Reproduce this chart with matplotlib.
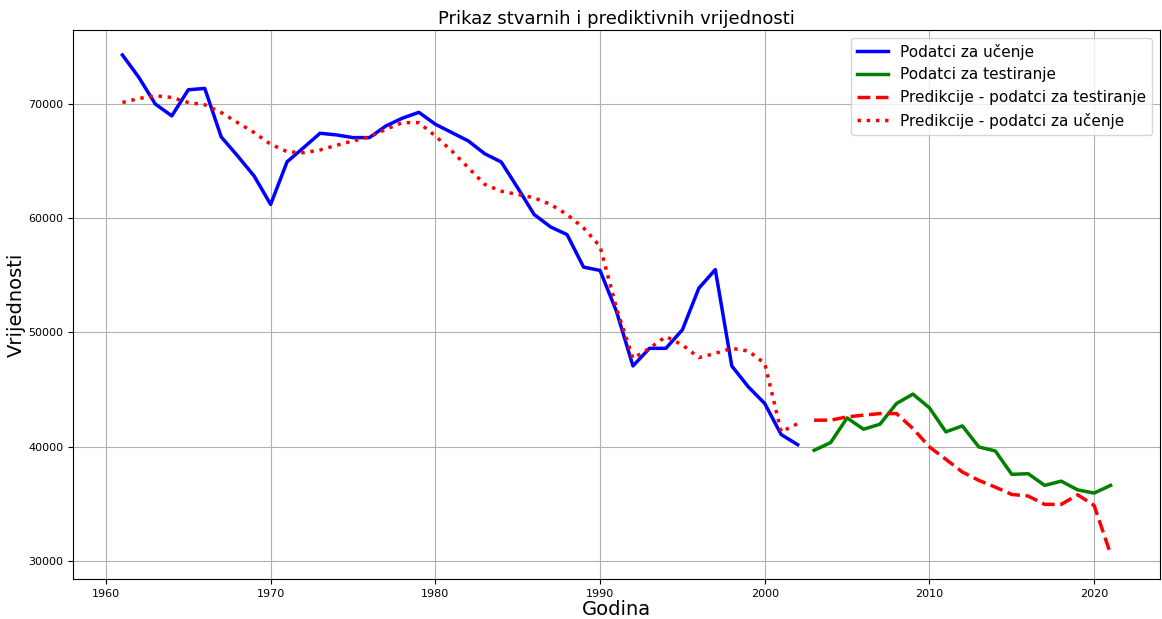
import numpy as np
import matplotlib.pyplot as plt

# years
train_years = list(range(1961, 2003))
test_years = list(range(2003, 2022))

# real values - training part
train_vals = [74245, 72280, 69950, 68920, 71200, 71320, 67080, 65410, 63660, 61180,
              64910, 66140, 67400, 67255, 67020, 67020, 68040, 68720, 69230, 68190,
              67460, 66730, 65610, 64890, 62630, 60300, 59210, 58540, 55700, 55410,
              51820, 47060, 48600, 48600, 50220, 53860, 55480, 47060, 45240, 43780,
              41060, 40180]

# real values - test part
test_vals = [39690, 40360, 42520, 41530, 41970, 43780, 44600, 43400, 41300, 41820,
             39980, 39630, 37590, 37640, 36620, 36990, 36230, 35950, 36620]

# predictions on training data
train_pred = [70090, 70440, 70675, 70530, 70090, 69890, 69210, 68330, 67460, 66440,
              65790, 65700, 65940, 66350, 66730, 67080, 67750, 68330, 68330, 67170,
              65850, 64390, 62930, 62340, 62050, 61760, 61180, 60300, 59120, 57520,
              52110, 47720, 48600, 49630, 48900, 47790, 48160, 48600, 48370, 47290,
              41300, 42020]

# predictions on test data
test_pred = [42320, 42320, 42610, 42760, 42900, 42900, 41590, 39980, 38900, 37790,
             37060, 36470, 35830, 35690, 34960, 34960, 35800, 34870, 30620]

fig = plt.figure(figsize=(11.62, 6.19), dpi=100)
ax = fig.add_axes([73/1162, 1-579/619, (1160-73)/1162, (579-30)/619])

ax.plot(train_years, train_vals, color="blue", linewidth=2.5, label="Podatci za učenje")
ax.plot(test_years, test_vals, color="green", linewidth=2.5, label="Podatci za testiranje")
ax.plot(test_years, test_pred, color="red", linestyle="--", linewidth=2.5, label="Predikcije - podatci za testiranje")
ax.plot(train_years, train_pred, color="red", linestyle=":", linewidth=2.5, label="Predikcije - podatci za učenje")

ax.set_title("Prikaz stvarnih i prediktivnih vrijednosti", fontsize=13, pad=4)
ax.set_xlabel("Godina", fontsize=14, labelpad=1)
ax.set_ylabel("Vrijednosti", fontsize=14, labelpad=2)
ax.tick_params(labelsize=8)
ax.grid(True)
ax.legend(fontsize=11, loc="upper right")

fig.savefig("out.png")
